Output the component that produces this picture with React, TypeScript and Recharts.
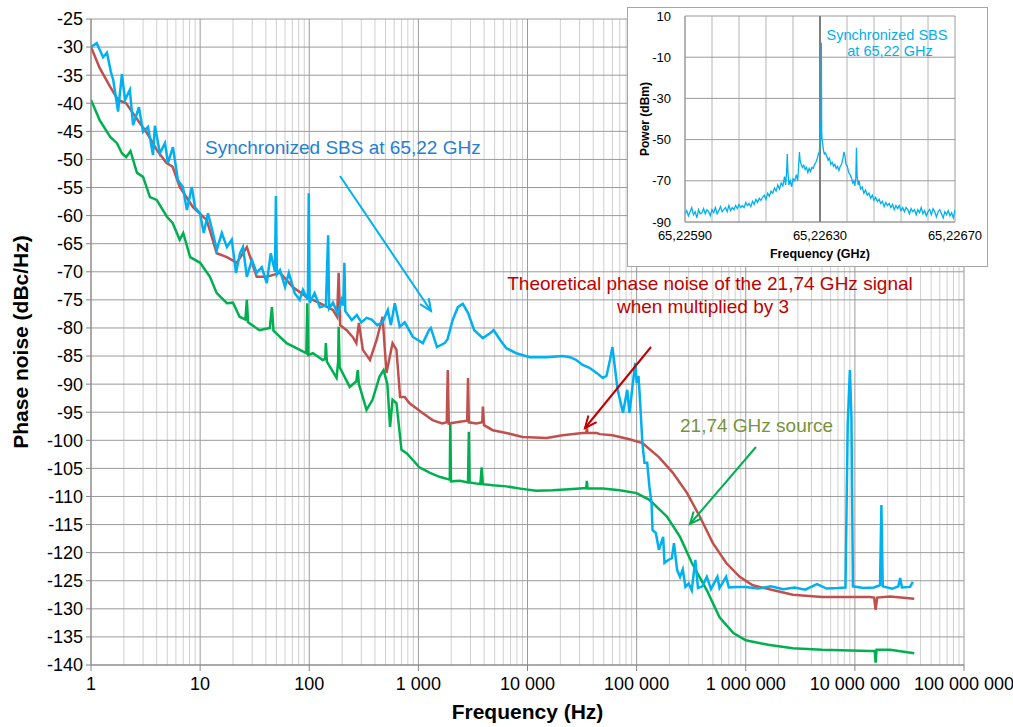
import { LineChart, Line, XAxis, YAxis, CartesianGrid } from 'recharts';

// ---- main chart data: [frequency Hz, phase noise dBc/Hz] ----
const sbsTrace: [number, number][] = [
  [1, -30], [1.13, -29.3], [1.29, -31.8], [1.4, -31], [1.52, -34.4], [1.6, -35.9], [1.77, -41.5],
  [1.92, -34.8], [2.05, -39.4], [2.27, -37.6], [2.43, -43.9], [2.75, -40.7], [3.0, -45.1],
  [3.33, -44.2], [3.7, -49.2], [3.85, -44], [4.28, -48.9], [4.76, -47.1], [5.07, -50.6],
  [5.63, -47.8], [6.26, -53.7], [6.95, -54.9], [7.56, -59], [8.4, -54.9], [8.97, -58.5],
  [9.97, -59.6], [10.8, -63.1], [11.8, -59.6], [13.1, -63.1], [14.2, -66.1], [15.8, -63.1],
  [17.6, -65.6], [19.5, -64.3], [21.3, -70.2], [23.2, -66.7], [24.7, -65.6], [26.8, -70.9],
  [29.8, -67.9], [33, -70.2], [36.7, -69.2], [40.8, -72], [44.4, -66.7], [48.5, -70],
  [49.5, -56.5], [50.5, -70.5], [53.9, -69.7], [60, -72.7], [65, -70.2], [73.6, -73.8],
  [81.7, -75], [87.5, -73.2], [97, -75], [99, -56], [101, -75.5], [112, -73.8], [125, -76.3],
  [142, -76], [149, -63.5], [152, -76.5], [165, -75.5], [183, -77.5], [198, -75], [205, -76],
  [210, -68.4], [214, -77], [245, -78.6], [273, -77.7], [300, -79], [335, -78.2], [373, -78.5],
  [420, -79.5], [470, -79], [525, -76.8], [560, -79.5], [608, -75.6], [675, -79.8], [750, -79],
  [890, -81.6], [1100, -82.7], [1250, -80.4], [1300, -80], [1480, -83.4], [1740, -82.7],
  [1850, -82], [2060, -78.6], [2300, -76.3], [2550, -75.7], [2850, -77.3], [3250, -80.4],
  [3900, -81.8], [4500, -81], [4900, -80.4], [5600, -82.1], [6400, -83.6], [7900, -84.5],
  [10500, -85.2], [15000, -85.2], [21000, -85], [24500, -85.2], [28000, -85.7], [32000, -86.6],
  [37000, -87.1], [43000, -88], [49000, -88.9], [53000, -88.5], [57000, -85.7], [60000, -83.4],
  [62000, -85.7], [67000, -91], [75000, -95.1], [82000, -91], [86000, -95.1], [97000, -86.2],
  [100000, -89.8], [104000, -88.5], [107000, -92.3], [113000, -100.5], [118000, -104],
  [125000, -104], [131000, -108.3], [137000, -111.2], [140000, -116], [150000, -116.5],
  [160000, -119.5], [175000, -117.2], [180000, -121.8], [195000, -121.3], [210000, -121],
  [220000, -118.3], [235000, -123.1], [250000, -124.3], [265000, -123], [280000, -126.1],
  [300000, -125.5], [320000, -126.7], [345000, -121.3], [365000, -126.3], [400000, -126],
  [440000, -124.3], [480000, -126.5], [550000, -124.3], [575000, -126.3], [660000, -124.3],
  [700000, -126.2], [815000, -126.1], [1000000, -126.1], [1300000, -126.4], [1700000, -126],
  [2200000, -126.5], [2800000, -126.2], [3500000, -126.6], [4500000, -125.6], [5500000, -126.4],
  [7000000, -126.3], [8200000, -126.2], [8600000, -97], [9000000, -87.5], [9300000, -96],
  [9600000, -126], [12000000, -126.3], [15000000, -126.2], [17000000, -125.8],
  [17500000, -111.5], [18000000, -126], [22000000, -126.4], [25000000, -126],
  [26000000, -124.5], [27000000, -126.2], [32000000, -126.1], [34000000, -125.2],
];

const theoryTrace: [number, number][] = [
  [1, -30], [1.2, -33.7], [1.5, -37.1], [1.77, -39.4], [2.1, -40], [2.43, -41.8], [2.8, -43.5],
  [3.26, -45.3], [4.0, -48.3], [4.9, -50.6], [5.6, -51.3], [6.5, -54.9], [8.6, -58.5],
  [11.5, -60.8], [14.2, -66.7], [17.6, -67.4], [21.7, -68.4], [26.8, -65.6], [33, -70.9],
  [40.8, -70.9], [54, -70.2], [70.6, -72.7], [95, -74.5], [125, -75.6], [165, -76.8],
  [180, -78], [186, -70.2], [192, -79.5], [220, -80.4], [250, -81.6], [270, -82.7],
  [285, -79.1], [310, -83.9], [360, -85.7], [415, -82.1], [470, -78], [510, -88], [580, -82.7],
  [630, -83.9], [680, -92.3], [750, -92.3], [830, -93.4], [930, -94.1], [1100, -95.2],
  [1350, -96.4], [1650, -97], [1820, -96.8], [1860, -87.5], [1900, -97], [2400, -96.7],
  [2800, -96.5], [2850, -88.9], [2900, -96.8], [3400, -97], [3850, -96.8], [3900, -94],
  [4000, -97.3], [4800, -98.2], [6400, -98.7], [9000, -99.4], [15000, -99.6], [21000, -99.1],
  [32000, -98.7], [34500, -98.7], [35000, -97.5], [35500, -98.7], [43000, -98.7],
  [46000, -98.9], [60000, -99.1], [86000, -99.8], [113000, -100.5], [160000, -103],
  [215000, -105.8], [290000, -109.4], [380000, -113.6], [500000, -118.3], [660000, -121.8],
  [880000, -124.3], [1160000, -125.8], [1800000, -126.7], [2700000, -127.5], [5000000, -127.9],
  [13700000, -127.9], [15000000, -128], [15500000, -130.2], [16000000, -128],
  [21000000, -127.8], [35000000, -128.2],
];

const sourceTrace: [number, number][] = [
  [1, -39.4], [1.2, -43], [1.5, -46], [1.73, -47.1], [1.92, -48.9], [2.1, -49.6], [2.3, -48.5],
  [2.64, -52.4], [3.0, -53.1], [3.47, -56.7], [4.0, -57.2], [4.96, -60.2], [5.6, -61.3],
  [6.5, -64.3], [7.0, -63.1], [8.1, -67.4], [10, -68.4], [12.3, -70.9], [14.2, -73.8],
  [17.6, -75.6], [20, -75.5], [23, -78], [26, -78.5], [26.8, -75], [27.5, -79], [35, -80.4],
  [43.5, -80], [45.5, -76.3], [47, -80.5], [62, -82.7], [82, -83.9], [94, -84.5], [96, -75.6],
  [98, -84.8], [108, -84.5], [133, -85.7], [140, -85.5], [142, -82.7], [145, -86], [178, -88.9],
  [184, -86], [186, -79.8], [190, -87], [235, -90.5], [270, -89.5], [278, -87.5], [285, -90],
  [335, -94.6], [380, -92.8], [440, -88.7], [480, -87.5], [520, -90], [550, -97.6],
  [580, -92.8], [630, -93.4], [700, -101.7], [780, -102.3], [890, -103.5], [1020, -104.8],
  [1280, -105.8], [1560, -106.5], [1940, -107], [1960, -96.9], [1990, -107.3], [2400, -107.2],
  [2850, -107.5], [2900, -98.5], [2950, -107.5], [3700, -107.8], [3800, -104.8], [3900, -107.8],
  [4800, -108], [6400, -108.2], [8600, -108.6], [12000, -109], [17000, -108.9], [24000, -108.7],
  [34500, -108.5], [35000, -107.2], [35500, -108.6], [49000, -108.6], [70000, -108.9],
  [100000, -109.4], [131000, -110.6], [190000, -113.6], [250000, -117.2], [320000, -121.8],
  [440000, -126.7], [575000, -131.5], [770000, -134.3], [1000000, -135.6], [1600000, -136.4],
  [2700000, -137], [5000000, -137.3], [13700000, -137.5], [15200000, -137.5],
  [15500000, -139.6], [15800000, -137.3], [21000000, -137.3], [35000000, -137.9],
];

const decadeTicks = [1, 10, 100, 1000, 10000, 100000, 1000000, 10000000, 100000000];
const minorTicks = decadeTicks.slice(0, -1).flatMap((d) => [2, 3, 4, 5, 6, 7, 8, 9].map((m) => m * d));
const noiseTicks = [-140, -135, -130, -125, -120, -115, -110, -105, -100, -95, -90, -85, -80, -75,
  -70, -65, -60, -55, -50, -45, -40, -35, -30, -25];

// ---- inset spectrum: [offset from 65,22590 GHz in kHz, power dBm] ----
const spectrumTrace: [number, number][] = [
  [0, -86], [5, -84.5], [10, -87], [15, -85], [20, -83], [25, -86.5], [30, -85], [35, -88],
  [40, -84], [45, -86], [50, -85.5], [55, -83.5], [60, -86], [65, -84], [70, -85], [75, -87],
  [80, -84], [85, -85.5], [90, -83], [95, -86], [100, -84.5], [105, -82.5], [110, -85],
  [115, -84], [120, -83], [125, -85], [130, -82], [135, -84.5], [140, -83], [145, -84],
  [150, -82], [155, -83.5], [160, -81.5], [165, -83], [170, -82], [175, -83], [180, -80.5],
  [185, -82], [190, -81], [195, -82.5], [200, -80], [205, -81.5], [210, -79], [215, -80.5],
  [220, -78.5], [225, -79.5], [230, -78], [235, -77], [240, -79], [245, -76], [250, -77.5],
  [255, -75], [260, -76], [265, -73.5], [270, -75], [275, -72], [280, -74], [285, -71],
  [290, -72.5], [295, -68], [298, -72], [301, -66], [303, -57], [305, -66], [308, -72],
  [312, -70], [316, -73], [320, -69], [325, -70], [330, -67], [334, -70], [337, -62],
  [339, -56], [341, -60], [344, -62], [348, -63.5], [352, -62.5], [356, -64.5], [360, -63.5],
  [364, -66], [368, -64], [372, -65.5], [376, -63.5], [380, -64], [384, -62], [388, -61],
  [392, -59], [395, -57], [398, -56], [400, -52], [401, -48], [402, -42], [403, -50],
  [404, -3], [405, -46], [406, -50], [408, -52], [410, -55], [413, -57], [416, -56.5],
  [420, -58], [424, -60], [428, -59], [432, -62], [436, -61], [440, -63], [444, -62],
  [448, -64], [452, -63], [456, -65], [460, -63], [464, -62], [468, -59], [471, -56],
  [474, -58], [477, -62], [481, -63], [485, -66], [489, -67], [493, -68.5], [497, -71],
  [500, -70], [503, -72.5], [506, -69], [508, -54], [510, -68], [513, -72], [516, -70],
  [520, -74], [525, -73], [530, -76], [535, -74.5], [540, -77], [545, -76], [550, -78.5],
  [555, -77], [560, -79.5], [565, -78], [570, -80], [575, -79], [580, -81], [585, -80],
  [590, -82.5], [595, -80.5], [600, -82], [605, -81], [610, -83], [615, -81.5], [620, -84],
  [625, -82], [630, -83.5], [635, -82], [640, -84.5], [645, -83], [650, -85], [655, -83],
  [660, -84], [665, -86], [670, -83.5], [675, -85], [680, -84], [685, -86.5], [690, -84],
  [695, -85.5], [700, -83], [705, -86], [710, -84.5], [715, -87], [720, -85], [725, -84],
  [730, -86.5], [735, -83.5], [740, -85], [745, -87.5], [750, -85], [755, -84], [760, -86],
  [765, -88], [770, -85], [775, -86.5], [780, -84.5], [785, -87], [790, -85.5], [795, -88],
  [800, -84],
];
const spectrumStartGHz = 65.2259;
const spectrumTicks = [65.2259, 65.2263, 65.2267];
const spectrumGrid = [65.22598, 65.22606, 65.22614, 65.22622, 65.22638, 65.22646, 65.22654, 65.22662];
const powerTicks = [-90, -70, -50, -30, -10, 10];

const sbsData = sbsTrace.map(([f, v]) => ({ f, v }));
const theoryData = theoryTrace.map(([f, v]) => ({ f, v }));
const sourceData = sourceTrace.map(([f, v]) => ({ f, v }));
const spectrumData = spectrumTrace.map(([k, p]) => ({ f: spectrumStartGHz + k * 1e-6, p }));

const FONT = '"Liberation Sans", Arial, sans-serif';

const fmtHz = (n: number) => String(Math.round(n)).replace(/\B(?=(\d{3})+(?!\d))/g, ' ');
const fmtGHz = (n: number) => n.toFixed(5).replace('.', ',');

function XTitle({ viewBox, text, size, dy }: any) {
  return (
    <text x={viewBox.x + viewBox.width / 2} y={viewBox.y + dy} textAnchor="middle"
      fontWeight="bold" fontSize={size} fill="#000" fontFamily={FONT}>{text}</text>
  );
}

function YTitle({ viewBox, text, size, cx }: any) {
  const cy = viewBox.y + viewBox.height / 2;
  return (
    <text x={cx} y={cy} transform={`rotate(-90 ${cx} ${cy})`} textAnchor="middle"
      dominantBaseline="central" fontWeight="bold" fontSize={size} fill="#000" fontFamily={FONT}>{text}</text>
  );
}

function Arrow({ x1, y1, x2, y2, color }: { x1: number; y1: number; x2: number; y2: number; color: string }) {
  const a = Math.atan2(y2 - y1, x2 - x1);
  const len = 13;
  const s = 0.42;
  const p1 = [x2 - len * Math.cos(a - s), y2 - len * Math.sin(a - s)];
  const p2 = [x2 - len * Math.cos(a + s), y2 - len * Math.sin(a + s)];
  return (
    <g stroke={color} strokeWidth={2} fill="none">
      <line x1={x1} y1={y1} x2={x2} y2={y2} />
      <polyline points={`${p1[0]},${p1[1]} ${x2},${y2} ${p2[0]},${p2[1]}`} />
    </g>
  );
}

export default function App() {
  return (
    <div style={{ position: 'absolute', left: 0, top: 0, width: 1013, height: 727, background: '#fff', fontFamily: FONT }}>
      <LineChart width={1013} height={727} margin={{ top: 19, right: 49, bottom: 0, left: 0 }}>
        <CartesianGrid horizontal={false} verticalValues={minorTicks} stroke="#d0d0d0" strokeWidth={1} />
        <CartesianGrid stroke="#9a9a9a" strokeWidth={1} />
        <XAxis
          dataKey="f" type="number" scale="log" domain={[1, 100000000]} ticks={decadeTicks}
          allowDataOverflow height={62} tickFormatter={fmtHz} interval={0}
          tick={{ fill: '#000', fontSize: 18 }} tickSize={6} tickMargin={6}
          stroke="#868686"
          label={<XTitle text="Frequency (Hz)" size={21} dy={54} />}
        />
        <YAxis
          type="number" domain={[-140, -25]} ticks={noiseTicks} interval={0} width={91}
          tick={{ fill: '#000', fontSize: 18 }} tickSize={5} tickMargin={3} stroke="#868686"
          label={<YTitle text="Phase noise (dBc/Hz)" size={21} cx={20} />}
        />
        <Line data={sourceData} dataKey="v" stroke="#00b050" strokeWidth={2.5} dot={false} isAnimationActive={false} />
        <Line data={theoryData} dataKey="v" stroke="#c0504d" strokeWidth={2.5} dot={false} isAnimationActive={false} />
        <Line data={sbsData} dataKey="v" stroke="#00b0f0" strokeWidth={2.5} dot={false} isAnimationActive={false} />
      </LineChart>

      <svg width={1013} height={727} style={{ position: 'absolute', left: 0, top: 0, pointerEvents: 'none' }}>
        <text x={205} y={154} fontSize={19} fill="#1f7fd0" fontFamily={FONT}>Synchronized SBS at 65,22 GHz</text>
        <Arrow x1={340} y1={176} x2={431} y2={311} color="#00b0f0" />
        <text x={710} y={290} fontSize={19} fill="#c00000" textAnchor="middle" fontFamily={FONT}>Theoretical phase noise of the 21,74 GHz signal</text>
        <text x={703} y={313} fontSize={19} fill="#c00000" textAnchor="middle" fontFamily={FONT}>when multiplied by 3</text>
        <Arrow x1={651} y1={347} x2={585} y2={428} color="#c00000" />
        <text x={680} y={432} fontSize={19} fill="#77933c" fontFamily={FONT}>21,74 GHz source</text>
        <Arrow x1={756} y1={447} x2={690} y2={524} color="#00b050" />
      </svg>

      <div style={{ position: 'absolute', left: 627, top: 7, width: 361, height: 260, boxSizing: 'border-box', border: '1px solid #a6a6a6', background: '#fff' }}>
        <LineChart width={359} height={258} data={spectrumData} margin={{ top: 8, right: 32, bottom: 0, left: 0 }}>
          <CartesianGrid horizontal={false} verticalValues={spectrumGrid} stroke="#b4b4b4" />
          <CartesianGrid stroke="#9a9a9a" />
          <CartesianGrid horizontal={false} verticalValues={[65.2263]} stroke="#7f7f7f" strokeWidth={2} />
          <XAxis
            dataKey="f" type="number" domain={[65.2259, 65.2267]} ticks={spectrumTicks} interval={0}
            allowDataOverflow height={44} tickFormatter={fmtGHz} tick={{ fill: '#000', fontSize: 13 }}
            tickLine={false} tickMargin={3} stroke="#9a9a9a"
            label={<XTitle text="Frequency (GHz)" size={12.5} dy={36} />}
          />
          <YAxis
            type="number" domain={[-90, 10]} ticks={powerTicks} interval={0} width={57}
            tick={{ fill: '#000', fontSize: 13 }} tickLine={false} tickMargin={8} stroke="#9a9a9a"
            label={<YTitle text="Power (dBm)" size={12} cx={17} />}
          />
          <Line dataKey="p" stroke="#00b0f0" strokeWidth={1.3} dot={false} isAnimationActive={false} />
        </LineChart>
        <svg width={359} height={60} style={{ position: 'absolute', left: 0, top: 0, pointerEvents: 'none' }}>
          <text x={259} y={32} fontSize={14.5} fill="#00b0f0" textAnchor="middle" fontFamily={FONT}>Synchronized SBS</text>
          <text x={262} y={48} fontSize={14.5} fill="#00b0f0" textAnchor="middle" fontFamily={FONT}>at 65,22 GHz</text>
        </svg>
      </div>
    </div>
  );
}
